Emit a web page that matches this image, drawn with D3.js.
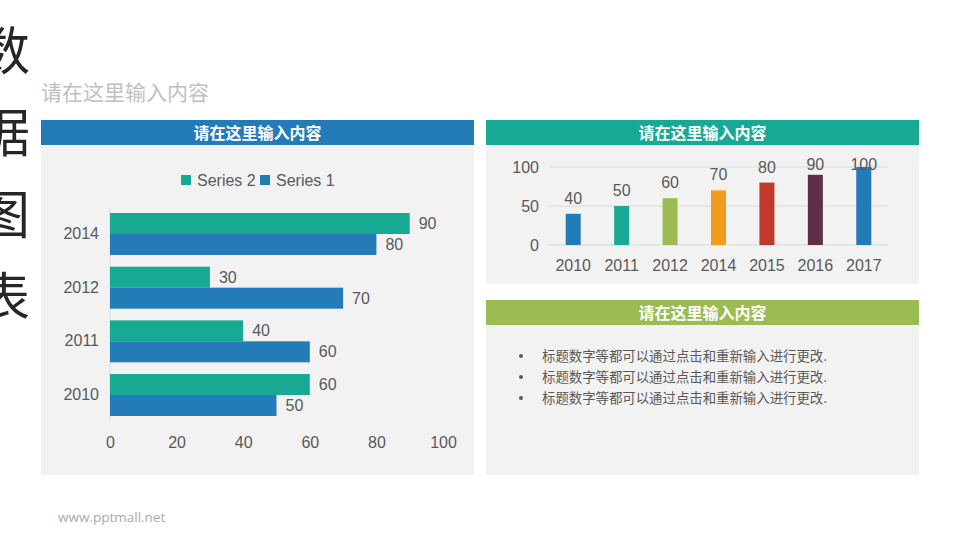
<!DOCTYPE html>
<html><head><meta charset="utf-8">
<script src="https://cdn.jsdelivr.net/npm/d3@7"></script>
<style>
html,body{margin:0;padding:0;background:#fff;}
svg{display:block;font-family:"Microsoft YaHei","Noto Sans CJK SC",sans-serif;}
.num{font-family:Arial,"Liberation Sans",sans-serif;}
</style></head>
<body><svg id="c" width="960" height="540"></svg>
<script>
// ---- data ----
const titleChars = ["数","据","图","表"];
const subtitle = "请在这里输入内容";
const panelTitle = "请在这里输入内容";
const hbarCategories = ["2014","2012","2011","2010"];
const series2 = [90,30,40,60];
const series1 = [80,70,60,50];
const seriesNames = ["Series 2","Series 1"];
const hbarTicks = [0,20,40,60,80,100];
const colCategories = ["2010","2011","2012","2014","2015","2016","2017"];
const colValues = [40,50,60,70,80,90,100];
const colColors = ["#237bb8","#17a994","#9bbb53","#f29b1d","#c0392b","#5e2f45","#237bb8"];
const colTicks = [0,50,100];
const bullets = ["标题数字等都可以通过点击和重新输入进行更改.","标题数字等都可以通过点击和重新输入进行更改.","标题数字等都可以通过点击和重新输入进行更改."];
const footer = "www.pptmall.net";

const svg = d3.select("#c");
const txt = "#595959";

// vertical title
svg.selectAll("text.vt").data(titleChars).join("text")
  .attr("x",4).attr("y",(d,i)=>70+i*82).attr("text-anchor","middle")
  .attr("font-size",52).attr("fill","#262626").text(d=>d);

svg.append("text").attr("x",41).attr("y",100).attr("font-size",21).attr("fill","#bfbfbf").text(subtitle);

function panel(x,y,w,h,color,title){
  svg.append("rect").attr("x",x).attr("y",y+25).attr("width",w).attr("height",h-25).attr("fill","#f2f2f2");
  svg.append("rect").attr("x",x).attr("y",y).attr("width",w).attr("height",25).attr("fill",color);
  svg.append("text").attr("x",x+w/2).attr("y",y+19).attr("text-anchor","middle")
    .attr("font-size",16).attr("font-weight","bold").attr("fill","#fff").text(title);
}
panel(41,120,433,355,"#237bb8",panelTitle);
panel(486,120,433,164,"#17a994",panelTitle);
panel(486,300,433,175,"#9bbb53",panelTitle);

// ---- horizontal bar chart ----
const hx = d3.scaleLinear().domain([0,100]).range([110,443]);
const hy = d3.scaleBand().domain(hbarCategories).range([213,416]).paddingInner(0.218).paddingOuter(0);
const hsub = d3.scaleBand().domain(seriesNames).range([0,hy.bandwidth()]);
const hColors = {"Series 2":"#17a994","Series 1":"#237bb8"};
svg.append("line").attr("x1",110).attr("x2",110).attr("y1",208).attr("y2",421).attr("stroke","#d9d9d9");
const hRows = hbarCategories.map((c,i)=>[{c,s:"Series 2",v:series2[i]},{c,s:"Series 1",v:series1[i]}]).flat();
svg.selectAll("rect.hb").data(hRows).join("rect")
  .attr("x",hx(0)).attr("y",d=>hy(d.c)+hsub(d.s)).attr("width",d=>hx(d.v)-hx(0))
  .attr("height",hsub.bandwidth()).attr("fill",d=>hColors[d.s]);
svg.selectAll("text.hl").data(hRows).join("text").attr("class","num")
  .attr("x",d=>hx(d.v)+9).attr("y",d=>hy(d.c)+hsub(d.s)+hsub.bandwidth()/2+5.5)
  .attr("font-size",16).attr("fill",txt).text(d=>d.v);
const hxAxis = svg.append("g").attr("transform","translate(0,442)")
  .call(d3.axisBottom(hx).tickValues(hbarTicks).tickSize(0).tickPadding(0));
hxAxis.select(".domain").remove();
hxAxis.selectAll("text").attr("class","num").attr("font-size",16).attr("fill",txt).attr("dy","0.35em");
const hyAxis = svg.append("g").attr("transform","translate(99,0)")
  .call(d3.axisLeft(hy).tickSize(0).tickPadding(0));
hyAxis.select(".domain").remove();
hyAxis.selectAll("text").attr("class","num").attr("font-size",16).attr("fill",txt);

// legend
const leg = [{n:"Series 2",x:181},{n:"Series 1",x:260}];
leg.forEach(l=>{
  svg.append("rect").attr("x",l.x).attr("y",175).attr("width",10).attr("height",10).attr("fill",hColors[l.n]);
  svg.append("text").attr("class","num").attr("x",l.x+16).attr("y",186).attr("font-size",16).attr("fill",txt).text(l.n);
});

// ---- column chart ----
const cx = d3.scaleBand().domain(colCategories).range([549,888]).paddingInner(0.69).paddingOuter(0.345);
const cy = d3.scaleLinear().domain([0,100]).range([245,167]);
svg.selectAll("line.cg").data(colTicks).join("line")
  .attr("x1",549).attr("x2",888).attr("y1",d=>cy(d)).attr("y2",d=>cy(d)).attr("stroke","#d9d9d9");
svg.selectAll("rect.cb").data(colValues).join("rect")
  .attr("x",(d,i)=>cx(colCategories[i])).attr("y",d=>cy(d)).attr("width",cx.bandwidth())
  .attr("height",d=>cy(0)-cy(d)).attr("fill",(d,i)=>colColors[i]);
svg.selectAll("text.cl").data(colValues).join("text").attr("class","num")
  .attr("x",(d,i)=>cx(colCategories[i])+cx.bandwidth()/2).attr("y",d=>Math.max(cy(d)-16,164)+6)
  .attr("text-anchor","middle").attr("font-size",16).attr("fill",txt).text(d=>d);
const cyAxis = svg.append("g").attr("transform","translate(539,0)")
  .call(d3.axisLeft(cy).tickValues(colTicks).tickSize(0).tickPadding(0));
cyAxis.select(".domain").remove();
cyAxis.selectAll("text").attr("class","num").attr("font-size",16).attr("fill",txt);
const cxAxis = svg.append("g").attr("transform","translate(0,265)")
  .call(d3.axisBottom(cx).tickSize(0).tickPadding(0));
cxAxis.select(".domain").remove();
cxAxis.selectAll("text").attr("class","num").attr("font-size",16).attr("fill",txt).attr("dy","0.35em");

// ---- bullets ----
bullets.forEach((b,i)=>{
  svg.append("circle").attr("cx",521).attr("cy",356+i*21).attr("r",2).attr("fill",txt);
  svg.append("text").attr("x",542).attr("y",361+i*21).attr("font-size",13.4).attr("fill",txt).text(b);
});

svg.append("text").attr("x",58).attr("y",522).attr("font-size",13.5).attr("fill","#aaaaaa")
  .attr("font-family","'Open Sans',sans-serif").text(footer);
</script></body></html>
